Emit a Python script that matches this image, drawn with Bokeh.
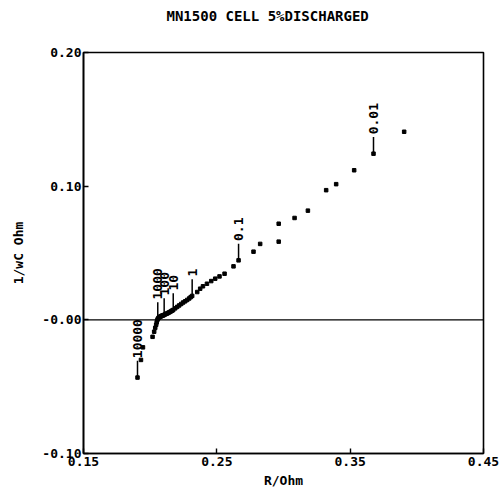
import math
from bokeh.plotting import figure
from bokeh.models import Range1d, FixedTicker, Span, ColumnDataSource, Title
from bokeh.core.properties import value
from bokeh.embed import file_html
from bokeh.resources import INLINE

# Impedance data (R in Ohm, 1/wC in Ohm)
r_ohm = [0.1905, 0.1931, 0.1946, 0.2018, 0.2030, 0.2038, 0.2045, 0.2049, 0.2053, 0.2057,
         0.2062, 0.2067, 0.2072, 0.2078, 0.2083, 0.2088, 0.2093, 0.2099, 0.2105,
         0.2113, 0.2120, 0.2128, 0.2135, 0.2143, 0.2150, 0.2158, 0.2165, 0.2173,
         0.2188, 0.2203, 0.2218, 0.2233, 0.2248, 0.2263, 0.2278, 0.2293, 0.2304, 0.2315,
         0.2353, 0.2375, 0.2396, 0.2426, 0.2458, 0.2488, 0.2520, 0.2558, 0.2625, 0.2663,
         0.2775, 0.2825, 0.2964, 0.2964, 0.3083, 0.3183, 0.3320, 0.3395, 0.3530, 0.3675, 0.3905]
inv_wc = [-0.0432, -0.0300, -0.0206, -0.0127, -0.0089, -0.0060, -0.0037, -0.0019, -0.0004, 0.0007,
          0.0013, 0.0018, 0.0022, 0.0025, 0.0028, 0.0030, 0.0032, 0.0034, 0.0037,
          0.0041, 0.0045, 0.0048, 0.0052, 0.0056, 0.0060, 0.0065, 0.0069, 0.0074,
          0.0086, 0.0097, 0.0108, 0.0119, 0.0130, 0.0139, 0.0149, 0.0160, 0.0170, 0.0179,
          0.0208, 0.0233, 0.0251, 0.0270, 0.0290, 0.0308, 0.0325, 0.0345, 0.0400, 0.0445,
          0.0510, 0.0568, 0.0585, 0.0719, 0.0762, 0.0817, 0.0970, 0.1015, 0.1119, 0.1243, 0.1407]

# Frequency labels (Hz) and the index of the point each one marks
freq_labels = ["10000", "1000", "100", "10", "1", "0.1", "0.01"]
freq_index = [0, 9, 18, 27, 37, 47, 57]

x_ticks = [0.15, 0.25, 0.35, 0.45]
x_tick_labels = ["0.15", "0.25", "0.35", "0.45"]
y_ticks = [-0.10, 0.0, 0.10, 0.20]
y_tick_labels = ["-0.10", "-0.00", "0.10", "0.20"]

title_text = "MN1500 CELL 5%DISCHARGED"
FONT = "DejaVu Sans Mono"

p = figure(width=502, height=490, output_backend="svg", toolbar_location=None,
           x_range=Range1d(0.15, 0.45), y_range=Range1d(-0.10, 0.20),
           title_location=None,
           min_border_left=83, min_border_right=19, min_border_top=52, min_border_bottom=35)
p.background_fill_color = "white"
p.border_fill_color = "white"
p.grid.visible = False
p.outline_line_color = "black"
p.outline_line_width = 1.6

# blank spacer (nearest the frame) then the real title further out
p.add_layout(Title(text=" ", text_font_size="10px", standoff=16), "above")
p.add_layout(Title(text=title_text, text_font=FONT, text_font_style="bold",
                   text_font_size="14px", text_color="black",
                   align="left", offset=83, standoff=0), "above")

for ax in (p.xaxis[0], p.yaxis[0]):
    ax.axis_line_color = "black"
    ax.axis_line_width = 1.6
    ax.major_tick_in = 5
    ax.major_tick_out = 0
    ax.minor_tick_line_color = None
    ax.major_tick_line_color = "black"
    ax.major_tick_line_width = 1.4
    ax.major_label_text_font = FONT
    ax.major_label_text_font_style = "bold"
    ax.major_label_text_font_size = "13px"
    ax.major_label_text_color = "black"
    ax.axis_label_text_font = FONT
    ax.axis_label_text_font_style = "bold"
    ax.axis_label_text_font_size = "13px"
    ax.axis_label_text_color = "black"

p.xaxis.ticker = FixedTicker(ticks=x_ticks)
p.xaxis.major_label_overrides = dict(zip(x_ticks, x_tick_labels))
p.yaxis.ticker = FixedTicker(ticks=y_ticks)
p.yaxis.major_label_overrides = dict(zip(y_ticks, y_tick_labels))
p.xaxis.axis_label = "R/Ohm"
p.yaxis.axis_label = "1/wC Ohm"
p.xaxis.major_label_standoff = 3
p.xaxis.axis_label_standoff = 4
p.yaxis.major_label_standoff = 2
p.yaxis.axis_label_standoff = 13

# zero line
p.add_layout(Span(location=0, dimension="width", line_color="black", line_width=1.4))

# data points
p.scatter(r_ohm, inv_wc, marker="square", size=3.5, color="black")

# frequency markers
lab_x = [r_ohm[i] for i in freq_index]
lab_y = [inv_wc[i] for i in freq_index]
stem = 0.0125
gap = 0.002
src = ColumnDataSource(dict(x=lab_x, y0=lab_y, y1=[y + stem for y in lab_y],
                            ty=[y + stem + gap for y in lab_y], t=freq_labels))
p.segment(x0="x", y0="y0", x1="x", y1="y1", source=src, line_color="black", line_width=1.5)
p.text(x="x", y="ty", text="t", source=src, angle=math.pi / 2,
       text_align="left", text_baseline="alphabetic",
       text_font=value(FONT), text_font_style="bold", text_font_size="13px",
       text_color="black")

open("out.html", "w").write(file_html(p, INLINE))
